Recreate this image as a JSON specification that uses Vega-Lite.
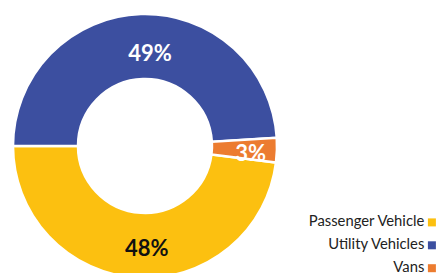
{
  "$schema": "https://vega.github.io/schema/vega-lite/v6.json",
  "autosize": {"type": "none"},
  "width": 290,
  "height": 292,
  "padding": {"left": 0, "top": 0, "right": 146, "bottom": -19},
  "background": "white",
  "config": {"view": {"stroke": null}, "font": "Lato"},
  "data": {"values": [
    {"category": "Passenger Vehicle", "value": 48, "label": "48%"},
    {"category": "Utility Vehicles", "value": 49, "label": "49%"},
    {"category": "Vans", "value": 3, "label": "3%"}
  ]},
  "encoding": {
    "theta": {"field": "value", "type": "quantitative", "stack": true, "scale": {"range": [1.6965, 7.9797]}},
    "order": {"field": "category", "type": "nominal", "sort": "ascending"}
  },
  "layer": [
    {
      "mark": {"type": "arc", "outerRadius": 132, "innerRadius": 67, "stroke": "white", "strokeWidth": 2.5},
      "encoding": {
        "color": {
          "field": "category", "type": "nominal",
          "scale": {"domain": ["Passenger Vehicle", "Utility Vehicles", "Vans"], "range": ["#FCC010", "#3C4FA0", "#EC7C30"]},
          "legend": {
            "title": null, "orient": "none", "legendX": 424.5, "legendY": 215,
            "symbolType": "square", "symbolSize": 64, "symbolStrokeWidth": 0,
            "labelAlign": "right", "labelOffset": -15, "labelFont": "Lato", "labelFontSize": 14.8,
            "labelColor": "#222222", "rowPadding": 6.9, "padding": 0, "symbolOffset": 0
          }
        }
      }
    },
    {
      "mark": {"type": "text", "font": "Lato", "fontWeight": "bold", "fontSize": 22, "dx": 8, "dy": 5.3},
      "encoding": {
        "detail": {"field": "category", "type": "nominal"},
        "text": {"field": "label", "type": "nominal"},
        "radius": {"condition": {"test": "datum.category === 'Vans'", "value": 108}, "value": 97.6},
        "color": {"condition": {"test": "datum.category === 'Passenger Vehicle'", "value": "#111111"}, "value": "white"}
      }
    }
  ]
}
